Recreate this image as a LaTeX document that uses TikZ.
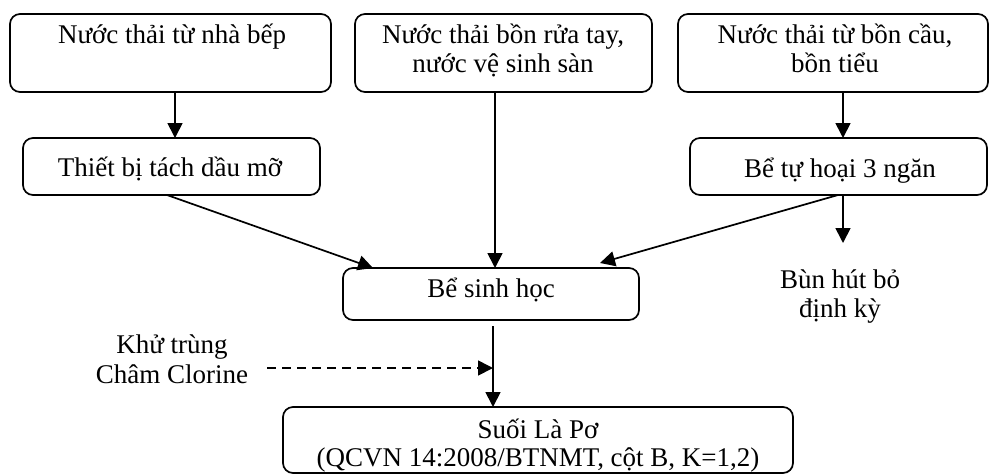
\documentclass[tikz,border=0pt]{standalone}
\usepackage{fontspec}
\setmainfont{Liberation Serif}
\usetikzlibrary{arrows.meta,calc}
\begin{document}
\begin{tikzpicture}[x=1pt,y=-1pt,
  box/.style={draw, line width=1.7pt, rounded corners=10pt, inner sep=0pt, outer sep=0pt},
  txt/.style={anchor=base, inner sep=0pt, font=\fontsize{27}{29}\selectfont},
  flow/.style={line width=1.7pt, -{Triangle[length=15pt,width=15pt]}},
]
\useasboundingbox (0,0) rectangle (990,475);

% process boxes
\node[box, minimum width=321pt, minimum height=78pt] (A) at (170.5,53) {};
\node[box, minimum width=297pt, minimum height=78pt] (B) at (503.5,53) {};
\node[box, minimum width=310pt, minimum height=78pt] (C) at (833,53) {};
\node[box, minimum width=297pt, minimum height=57pt] (D) at (171.5,166.5) {};
\node[box, minimum width=297pt, minimum height=57pt] (E) at (838.5,166.5) {};
\node[box, minimum width=296pt, minimum height=52pt] (F) at (491,294) {};
\node[box, minimum width=510pt, minimum height=66pt] (G) at (538,440) {};

% box texts
\node[txt] (tA)  at (172,43) {Nước thải từ nhà bếp};
\node[txt] (tB1) at (503,43) {Nước thải bồn rửa tay,};
\node[txt] (tB2) at (503,72) {nước vệ sinh sàn};
\node[txt] (tC1) at (835,43) {Nước thải từ bồn cầu,};
\node[txt] (tC2) at (835,72) {bồn tiểu};
\node[txt] (tD)  at (170,176) {Thiết bị tách dầu mỡ};
\node[txt] (tE)  at (840,177) {Bể tự hoại 3 ngăn};
\node[txt] (tF)  at (491,297) {Bể sinh học};
\node[txt] (tG1) at (538,438) {Suối Là Pơ};
\node[txt] (tG2) at (538,466) {(QCVN 14:2008/BTNMT, cột B, K=1,2)};

% free labels
\node[txt] (sl1) at (840,288) {Bùn hút bỏ};
\node[txt] (sl2) at (840,317) {định kỳ};
\node[txt] (ds1) at (172,353) {Khử trùng};
\node[txt] (ds2) at (172,383) {Châm Clorine};

% connector positions
\coordinate (xa) at (175,0);
\coordinate (xb) at (495,0);
\coordinate (xc) at (843,0);
\coordinate (xd) at (167,0);
\coordinate (xf1) at (373,0);
\coordinate (xe) at (838,0);
\coordinate (xf2) at (600,0);
\coordinate (xg) at (493,0);
\coordinate (slt) at (843,243);
\coordinate (dstart) at (267,368);

\draw[flow] (A.south -| xa) -- (D.north -| xa);
\draw[flow] (C.south -| xc) -- (E.north -| xc);
\draw[flow] (B.south -| xb) -- (F.north -| xb);
\draw[flow] (D.south -| xd) -- (F.north -| xf1);
\draw[flow] (E.south -| xe) -- ($(F.north -| xf2)+(0,-5)$);
\draw[flow] (E.south -| xc) -- (slt);
\draw[flow] ($(F.south -| xg)+(0,6)$) -- (G.north -| xg);
\draw[flow, dash pattern=on 9pt off 6pt] (dstart) -- (dstart -| xg);
\end{tikzpicture}
\end{document}
